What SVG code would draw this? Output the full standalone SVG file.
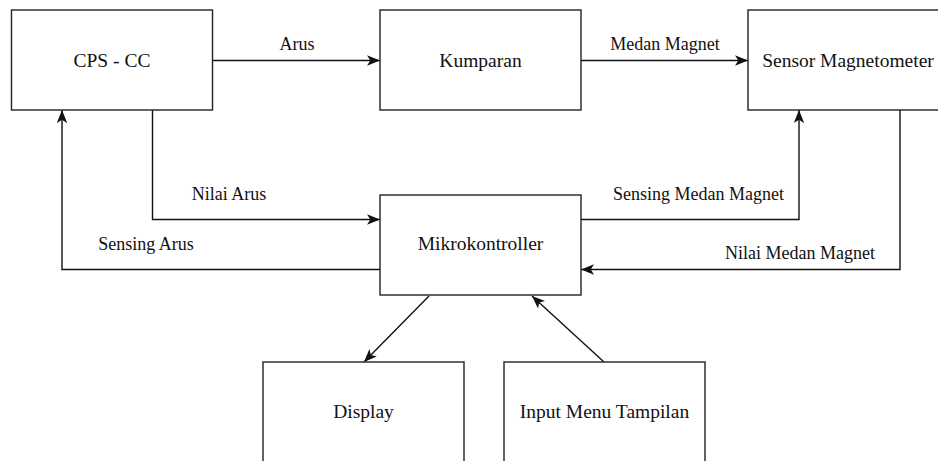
<svg xmlns="http://www.w3.org/2000/svg" width="938" height="461" viewBox="0 0 938 461">
<defs>
<style>
.box{fill:#fff;stroke:#222;stroke-width:1.4}
.nt{font-family:'Liberation Serif','DejaVu Serif',serif;font-size:19.5px;fill:#111;text-anchor:middle}
.et{font-family:'Liberation Serif','DejaVu Serif',serif;font-size:18px;fill:#111;text-anchor:middle}
.ln{fill:none;stroke:#111;stroke-width:1.4}
</style>
<marker id="arr" viewBox="0 0 10 8" refX="10" refY="4" markerWidth="13" markerHeight="10.4" orient="auto" markerUnits="userSpaceOnUse">
<path d="M0,0 L10,4 L0,8 L2.5,4 z" fill="#111"/>
</marker>
</defs>
<rect width="938" height="461" fill="#fff"/>
<g id="connectors">
<path class="ln" d="M212.5,60.5 H380" marker-end="url(#arr)"/>
<text class="et" x="297" y="50">Arus</text>
<path class="ln" d="M581,60.5 H748" marker-end="url(#arr)"/>
<text class="et" x="665" y="50">Medan Magnet</text>
<path class="ln" d="M152.5,110 V219.5 H380" marker-end="url(#arr)"/>
<text class="et" x="229" y="200">Nilai Arus</text>
<path class="ln" d="M380,269.5 H62 V110" marker-end="url(#arr)"/>
<text class="et" x="146" y="250">Sensing Arus</text>
<path class="ln" d="M581,219.5 H799 V110" marker-end="url(#arr)"/>
<text class="et" x="698.5" y="200">Sensing Medan Magnet</text>
<path class="ln" d="M900,110 V269.5 H581" marker-end="url(#arr)"/>
<text class="et" x="800" y="259">Nilai Medan Magnet</text>
<path class="ln" d="M429,296 L364,362" marker-end="url(#arr)"/>
<path class="ln" d="M604,362 L532,296" marker-end="url(#arr)"/>
</g>
<g id="cps">
<rect class="box" x="11.5" y="10" width="201" height="100"/>
<text class="nt" x="112" y="67">CPS - CC</text>
</g>
<g id="kumparan">
<rect class="box" x="380" y="10" width="201" height="100"/>
<text class="nt" x="480.5" y="67">Kumparan</text>
</g>
<g id="sensor">
<rect class="box" x="748" y="10" width="201" height="100"/>
<text class="nt" x="848" y="67">Sensor Magnetometer</text>
</g>
<g id="mikro">
<rect class="box" x="380" y="195" width="201" height="100"/>
<text class="nt" x="480.5" y="250">Mikrokontroller</text>
</g>
<g id="display">
<rect class="box" x="263" y="362" width="201" height="100"/>
<text class="nt" x="363.5" y="418">Display</text>
</g>
<g id="input">
<rect class="box" x="504" y="362" width="201" height="100"/>
<text class="nt" x="604.5" y="418">Input Menu Tampilan</text>
</g>
</svg>
